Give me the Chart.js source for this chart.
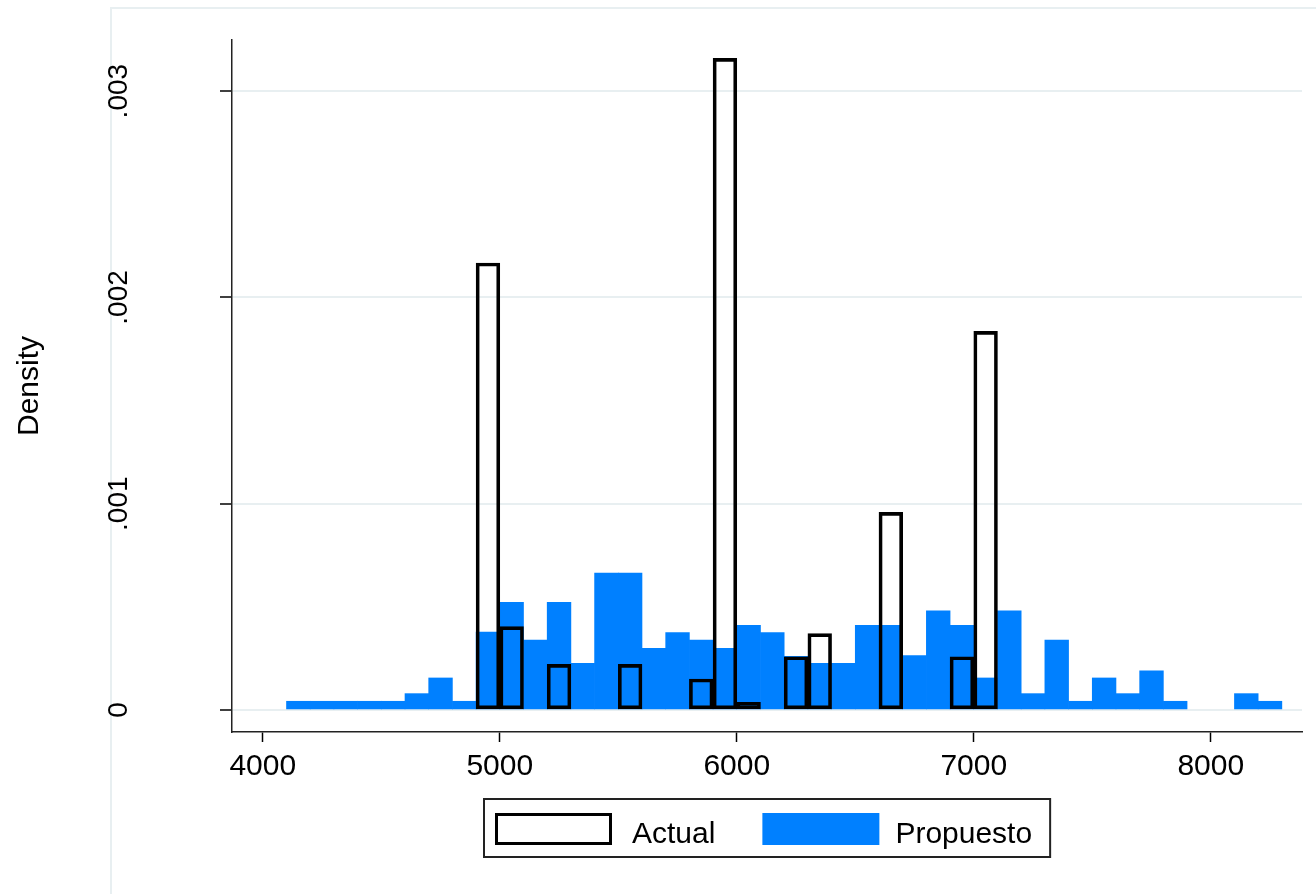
<!DOCTYPE html>
<html lang="es">
<head>
<meta charset="utf-8">
<title>Density - Actual vs Propuesto</title>
<script src="https://cdn.jsdelivr.net/npm/chart.js@4.4.1/dist/chart.umd.min.js"></script>
<style>
  html, body { margin: 0; padding: 0; background: #fff; }
  #wrap { position: relative; width: 1316px; height: 894px; }
  #marco { position: absolute; left: 110px; top: 7px; right: 0; bottom: 0;
           border-left: 2px solid #e8eff1; border-top: 2px solid #e8eff1; }
  #grafico { position: absolute; left: 0; top: 0; }
</style>
</head>
<body>
<div id="wrap">
  <div id="marco"></div>
  <canvas id="grafico" width="1316" height="894"></canvas>
</div>
<script>
// Centros de las clases (ancho 100)
const binCenters = [4150, 4250, 4350, 4450, 4550, 4650, 4750, 4850, 4950, 5050,
                    5150, 5250, 5350, 5450, 5550, 5650, 5750, 5850, 5950, 6050,
                    6150, 6250, 6350, 6450, 6550, 6650, 6750, 6850, 6950, 7050,
                    7150, 7250, 7350, 7450, 7550, 7650, 7750, 7850, 7950, 8050,
                    8150, 8250];

// Densidad - Propuesto
const propuesto = [0.000042, 0.000042, 0.000042, 0.000042, 0.000042, 0.000079, 0.000155, 0.000042, 0.000377, 0.000522,
                   0.000339, 0.000522, 0.000226, 0.000664, 0.000664, 0.000299, 0.000375, 0.000339, 0.000299, 0.000410,
                   0.000375, 0.000260, 0.000226, 0.000226, 0.000410, 0.000410, 0.000263, 0.000481, 0.000410, 0.000155,
                   0.000481, 0.000079, 0.000339, 0.000042, 0.000155, 0.000079, 0.000190, 0.000042, 0, 0,
                   0.000079, 0.000042];

// Densidad - Actual (solo clases con observaciones)
const actualBins = [4950, 5050, 5250, 5550, 5850, 5950, 6050, 6250, 6350, 6650, 6950, 7050];
const actual = [0.002167, 0.000404, 0.000221, 0.000221, 0.000150, 0.003159, 0.000037, 0.000258, 0.000370, 0.000958, 0.000258, 0.001835];

// Marcas de los ejes
const xTicks = [4000, 5000, 6000, 7000, 8000];
const yTicks = [0, 0.001, 0.002, 0.003];
const yTickLabels = ['0', '.001', '.002', '.003'];

const FUENTE = '"Liberation Sans", Arial, Helvetica, sans-serif';
const AZUL = '#0080ff';

// Etiquetas del eje Y giradas (estilo Stata)
const etiquetasY = {
    id: 'etiquetasY',
    afterDraw(chart) {
        const ctx = chart.ctx;
        const escala = chart.scales.y;
        ctx.save();
        ctx.font = '28px ' + FUENTE;
        ctx.fillStyle = '#000';
        ctx.textAlign = 'center';
        ctx.textBaseline = 'alphabetic';
        yTicks.forEach((v, i) => {
            const py = escala.getPixelForValue(v);
            ctx.save();
            ctx.translate(escala.right - 105, py);
            ctx.rotate(-Math.PI / 2);
            ctx.fillText(yTickLabels[i], 0, 0);
            ctx.restore();
        });
        ctx.restore();
    }
};

// Leyenda con marco debajo del gráfico
const leyenda = {
    id: 'leyenda',
    afterDraw(chart) {
        const ctx = chart.ctx;
        const area = chart.chartArea;
        const caja = 117, altoCaja = 32;
        ctx.save();
        ctx.font = '30px ' + FUENTE;
        const textos = chart.data.datasets.map(ds => ds.label);
        const anchos = textos.map(t => ctx.measureText(t).width);
        const total = 11 + caja + 20 + anchos[0] + 47 + caja + 16 + anchos[1] + 18;
        const x0 = Math.round((area.left + area.right) / 2 - total / 2);
        const y0 = area.bottom + 67;
        const alto = 58;

        ctx.strokeStyle = '#222';
        ctx.lineWidth = 2;
        ctx.strokeRect(x0, y0, total, alto);

        const yc = y0 + 14;
        let x = x0 + 11;
        // Actual
        ctx.fillStyle = '#fff';
        ctx.fillRect(x, yc, caja, altoCaja);
        ctx.strokeStyle = '#000';
        ctx.lineWidth = 3;
        ctx.strokeRect(x + 1.5, yc + 1.5, caja - 3, altoCaja - 3);
        x += caja + 20;
        ctx.fillStyle = '#000';
        ctx.textBaseline = 'alphabetic';
        ctx.fillText(textos[0], x, y0 + 44);
        x += anchos[0] + 47;
        // Propuesto
        ctx.fillStyle = AZUL;
        ctx.fillRect(x, yc, caja, altoCaja);
        x += caja + 16;
        ctx.fillStyle = '#000';
        ctx.fillText(textos[1], x, y0 + 44);
        ctx.restore();
    }
};

const ctx = document.getElementById('grafico').getContext('2d');
const grafico = new Chart(ctx, {
    type: 'bar',
    data: {
        datasets: [
            {
                label: 'Actual',
                data: actualBins.map((x, i) => ({ x: x, y: actual[i] })),
                backgroundColor: 'rgba(0,0,0,0)',
                borderColor: '#000',
                borderWidth: 3,
                borderSkipped: false,
                barPercentage: 1,
                categoryPercentage: 1,
                grouped: false
            },
            {
                label: 'Propuesto',
                data: binCenters.map((x, i) => ({ x: x, y: propuesto[i] || null })),
                backgroundColor: AZUL,
                borderWidth: 0,
                barPercentage: 1,
                categoryPercentage: 1,
                grouped: false
            }
        ]
    },
    options: {
        responsive: false,
        animation: false,
        layout: { padding: { top: 40, right: 14, left: 0, bottom: 0 } },
        plugins: {
            legend: { display: false },
            tooltip: { enabled: false }
        },
        scales: {
            x: {
                type: 'linear',
                min: 3870,
                max: 8385,
                offset: false,
                afterFit: s => { s.height = 162; },
                afterBuildTicks: s => { s.ticks = xTicks.map(v => ({ value: v })); },
                grid: { offset: false, drawOnChartArea: false, drawTicks: true, tickLength: 10, tickColor: '#000', tickWidth: 1.5 },
                border: { display: true, color: '#222', width: 1.5 },
                ticks: {
                    color: '#000',
                    padding: 7,
                    maxRotation: 0,
                    autoSkip: false,
                    font: { family: FUENTE, size: 30 },
                    callback: v => String(v)
                }
            },
            y: {
                type: 'linear',
                min: -0.000107,
                max: 0.003248,
                afterFit: s => { s.width = 232; },
                afterBuildTicks: s => { s.ticks = yTicks.map(v => ({ value: v })); },
                grid: { color: '#e8eff1', lineWidth: 2, drawTicks: true, tickLength: 12, tickColor: '#000', tickWidth: 1.5 },
                border: { display: true, color: '#222', width: 1.5 },
                ticks: { display: false },
                title: {
                    display: true,
                    text: 'Density',
                    color: '#000',
                    font: { family: FUENTE, size: 30 },
                    padding: { top: 12, bottom: 0 }
                }
            }
        }
    },
    plugins: [etiquetasY, leyenda]
});
</script>
</body>
</html>
